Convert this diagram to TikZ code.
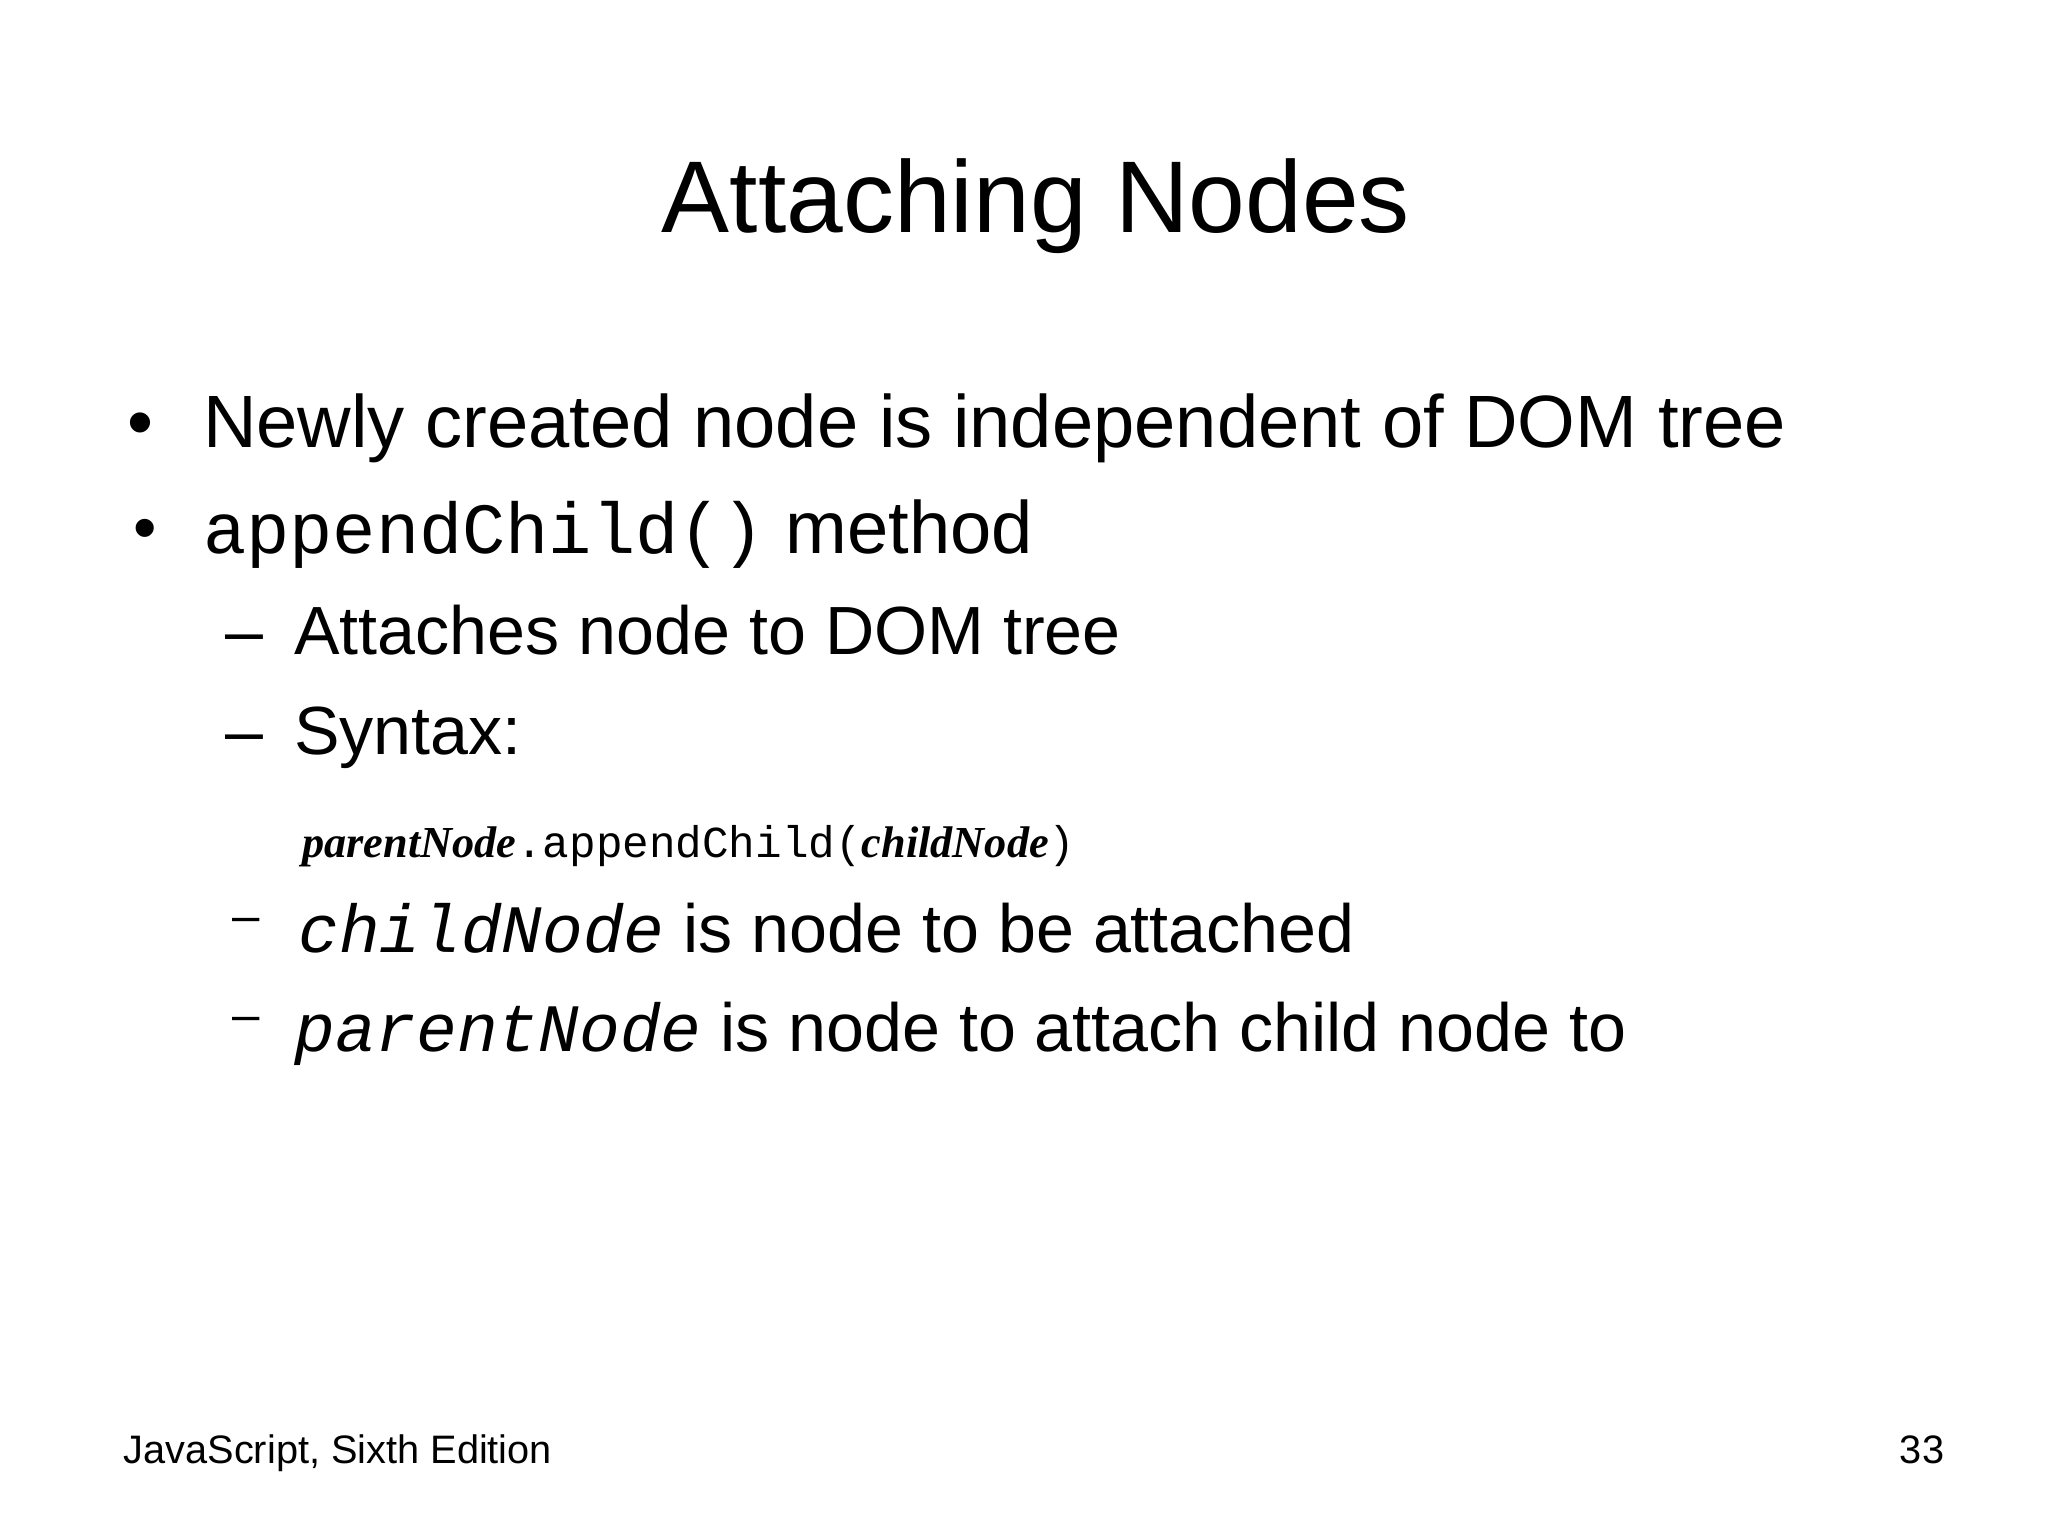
\documentclass[tikz,border=0pt]{standalone}
\usepackage{fontspec}
\setmainfont{Liberation Sans}
\setmonofont{Liberation Mono}
\newfontfamily\scriptish{Liberation Serif}
\begin{document}
\begin{tikzpicture}[x=0.01323cm,y=-0.01323cm,
  every node/.style={inner sep=0pt,anchor=base west,text=black}]
\useasboundingbox[fill=white] (0,0) rectangle (1548,1161);
\node[anchor=base] (title) at (783,176) {\fontsize{29}{34}\selectfont Attaching Nodes};
\node (b1) at (96,338) {\fontsize{21.1}{26}\selectfont •};
\node (t1) at (153,338) {\fontsize{21.1}{26}\selectfont Newly created node is independent of DOM tree};
\node (b2) at (100,416) {\fontsize{19}{24}\selectfont •};
\node (t2) at (153,418) {\fontsize{20.5}{28}\selectfont\ttfamily appendChild()\fontsize{21.1}{26}\selectfont\rmfamily\ method};
\node (d1) at (170,495) {\fontsize{19.4}{24}\selectfont –};
\node (t3) at (222,495) {\fontsize{19.4}{24}\selectfont Attaches node to DOM tree};
\node (d2) at (170,570) {\fontsize{19.4}{24}\selectfont –};
\node (t4) at (222,570) {\fontsize{19.4}{24}\selectfont Syntax:};
\node (code) at (228,648) {\fontsize{12.6}{15}\selectfont{\scriptish\bfseries\itshape parentNode}\ttfamily.appendChild({\scriptish\bfseries\itshape childNode})};
\node (d3) at (175,705) {\fontsize{14}{18}\selectfont –};
\node (t5) at (225,720) {\fontsize{19.3}{26}\selectfont\ttfamily\itshape childNode\fontsize{19.4}{24}\selectfont\rmfamily\upshape\ is node to be attached};
\node (d4) at (175,780) {\fontsize{14}{18}\selectfont –};
\node (t6) at (222,795) {\fontsize{19.3}{26}\selectfont\ttfamily\itshape parentNode\fontsize{19.4}{24}\selectfont\rmfamily\upshape\ is node to attach child node to};
\node (foot) at (93,1106) {\fontsize{11.3}{14}\selectfont JavaScript, Sixth Edition};
\node[anchor=base east] (page) at (1470,1106) {\fontsize{11.3}{14}\selectfont 33};
\end{tikzpicture}
\end{document}
